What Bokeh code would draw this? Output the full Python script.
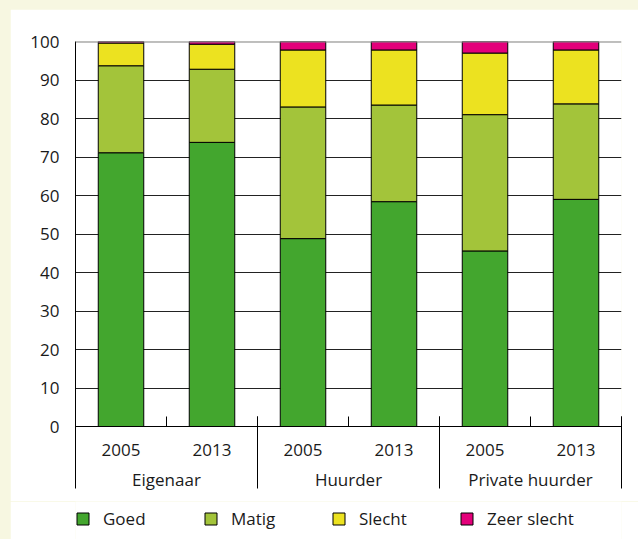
from bokeh.plotting import figure
from bokeh.layouts import column
from bokeh.models import ColumnDataSource, FixedTicker, LinearAxis, Legend, Span, Range1d
from bokeh.embed import file_html
from bokeh.resources import INLINE

# ---- data ----
groups = ["Eigenaar", "Huurder", "Private huurder"]
years = ["2005", "2013"]
series_names = ["Goed", "Matig", "Slecht", "Zeer slecht"]
goed = [71.1, 73.8, 48.8, 58.4, 45.6, 59.0]
matig = [22.6, 19.0, 34.2, 25.1, 35.4, 24.8]
slecht = [5.9, 6.5, 14.8, 14.3, 16.0, 14.0]
zeer_slecht = [0.4, 0.7, 2.2, 2.2, 3.0, 2.2]
y_ticks = [0, 10, 20, 30, 40, 50, 60, 70, 80, 90, 100]

colors = ["#43a62e", "#a3c43a", "#ece220", "#e3007a"]
FONT = "Open Sans"
TXT = "#1a1a1a"
FS = "17px"

n = len(groups) * len(years)
xc = [2 * i + 1 for i in range(n)]                     # bar centres
year_labels = [y for g in groups for y in years]
gsize = 2 * len(years)
group_centres = [gsize * j + gsize // 2 for j in range(len(groups))]
group_bounds = [gsize * j for j in range(len(groups) + 1)]
all_bounds = list(range(0, 2 * n + 1, 2))
stack_keys = ["Goed", "Matig", "Slecht", "ZS"]

src = ColumnDataSource(dict(x=xc, Goed=goed, Matig=matig, Slecht=slecht, ZS=zeer_slecht))

p = figure(width=628, height=492, x_range=Range1d(0, 2 * n), y_range=Range1d(0, 100),
           output_backend="svg", toolbar_location=None, x_axis_type=None,
           min_border_left=65, min_border_right=17, min_border_top=32, min_border_bottom=75,
           border_fill_color="white", background_fill_color="white", outline_line_color=None)

# y axis
ya = p.yaxis[0]
ya.ticker = FixedTicker(ticks=y_ticks)
ya.major_tick_in = 0
ya.major_tick_out = 0
ya.minor_tick_in = 0
ya.minor_tick_out = 0
ya.axis_line_color = "black"
ya.axis_line_width = 1
ya.major_label_standoff = 16
ya.major_label_text_font = FONT
ya.major_label_text_font_size = FS
ya.major_label_text_color = TXT

p.ygrid.ticker = FixedTicker(ticks=y_ticks[1:-1])
p.ygrid.grid_line_color = "#222222"
p.ygrid.grid_line_width = 1

p.add_layout(Span(location=100, dimension="width", line_color="#808080", line_width=2))

# bars
p.vbar_stack(stack_keys, x="x", width=1.0, fill_color=colors,
             line_color="black", line_width=1, source=src)

# x axis 1: years + short inner ticks
ax1 = LinearAxis(ticker=FixedTicker(ticks=xc, minor_ticks=all_bounds),
                 major_label_overrides={c: l for c, l in zip(xc, year_labels)})
ax1.major_tick_in = 0
ax1.major_tick_out = 0
ax1.minor_tick_in = 10
ax1.minor_tick_out = 0
ax1.minor_tick_line_color = "black"
ax1.axis_line_color = "black"
ax1.major_label_standoff = 17
ax1.major_label_text_font = FONT
ax1.major_label_text_font_size = FS
ax1.major_label_text_color = TXT
p.add_layout(ax1, "below")

# x axis 2: group labels + long group separators
ax2 = LinearAxis(ticker=FixedTicker(ticks=group_centres, minor_ticks=group_bounds),
                 major_label_overrides={c: g for c, g in zip(group_centres, groups)})
ax2.major_tick_in = 0
ax2.major_tick_out = 0
ax2.minor_tick_in = 42
ax2.minor_tick_out = 30
ax2.minor_tick_line_color = "black"
ax2.axis_line_color = None
ax2.major_label_standoff = -21
ax2.major_label_text_font = FONT
ax2.major_label_text_font_size = FS
ax2.major_label_text_color = TXT
p.add_layout(ax2, "below")

# legend strip (second figure, bars out of view there)
p2 = figure(width=628, height=38, x_range=p.x_range, y_range=Range1d(200, 300),
            output_backend="svg", toolbar_location=None, x_axis_type=None, y_axis_type=None,
            min_border_left=0, min_border_right=0, min_border_top=0, min_border_bottom=0,
            border_fill_color="white", background_fill_color="white", outline_line_color=None)
rs = p2.vbar_stack(stack_keys, x="x", width=1.0, fill_color=colors,
                   line_color="black", line_width=1, source=src)
legend = Legend(items=[(nm, [r]) for nm, r in zip(series_names, rs)],
                location=(0, 9), orientation="horizontal",
                glyph_width=15, glyph_height=15, label_height=20,
                label_standoff=13, label_width=100,
                spacing=0, padding=0, margin=0, border_line_color=None,
                background_fill_color=None,
                label_text_font=FONT, label_text_font_size=FS, label_text_color=TXT)
p2.add_layout(legend)

layout = column(p, p2, spacing=0)

html = file_html(layout, INLINE)
html = html.replace("</head>",
                    "<style>html, body{background:#f7f7e1 !important;}"
                    " body{padding:9px 0 0 10px !important;}</style></head>")
open("out.html", "w").write(html)
